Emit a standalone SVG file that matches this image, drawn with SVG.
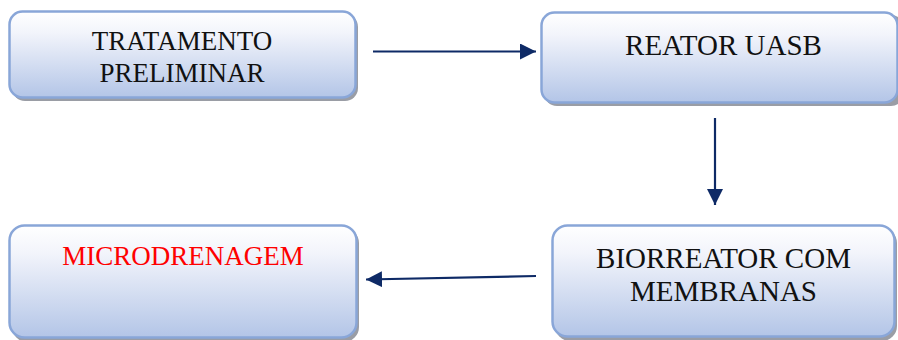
<svg xmlns="http://www.w3.org/2000/svg" width="898" height="340" viewBox="0 0 898 340">
  <defs>
    <linearGradient id="boxFill" x1="0" y1="0" x2="0" y2="1">
      <stop offset="0" stop-color="#ffffff"/>
      <stop offset="0.25" stop-color="#f2f4fb"/>
      <stop offset="1" stop-color="#b3c5e7"/>
    </linearGradient>
    <marker id="arrow" viewBox="0 0 16 16" refX="16" refY="8" markerWidth="16" markerHeight="16" markerUnits="userSpaceOnUse" orient="auto">
      <path d="M0,0 L16,8 L0,16 Z" fill="#0e2a66"/>
    </marker>
    <style>
      .shadow { fill: #9a9da5; }
      .box { fill: url(#boxFill); stroke: #89a6d8; stroke-width: 2.5; }
      .label { font-family: "Liberation Serif", "Times New Roman", serif; font-size: 27px; text-anchor: middle; fill: #111111; }
      .big { font-size: 29px; }
      .red { fill: #ff0000; }
      .conn { stroke: #0e2a66; stroke-width: 2.2; fill: none; marker-end: url(#arrow); }
    </style>
  </defs>

  <g id="tratamento-preliminar">
    <rect class="shadow" x="12" y="14" width="346" height="87" rx="13"/>
    <rect class="box" x="9.5" y="11.5" width="346" height="86" rx="13"/>
    <text class="label" x="182" y="50">TRATAMENTO</text>
    <text class="label" x="182" y="82">PRELIMINAR</text>
  </g>

  <g id="reator-uasb">
    <rect class="shadow" x="544" y="15" width="360" height="91" rx="13"/>
    <rect class="box" x="541.5" y="12.5" width="356" height="90" rx="13"/>
    <text class="label big" x="723.5" y="55">REATOR UASB</text>
  </g>

  <g id="microdrenagem">
    <rect class="shadow" x="12" y="228" width="347" height="114" rx="15"/>
    <rect class="box" x="9.5" y="225.5" width="347" height="112" rx="15"/>
    <text class="label red" x="183" y="265">MICRODRENAGEM</text>
  </g>

  <g id="biorreator-com-membranas">
    <rect class="shadow" x="555" y="228" width="342" height="113" rx="15"/>
    <rect class="box" x="552.5" y="225.5" width="342" height="111" rx="15"/>
    <text class="label big" x="723.5" y="268">BIORREATOR COM</text>
    <text class="label big" x="723.5" y="301">MEMBRANAS</text>
  </g>

  <g id="connectors">
    <line class="conn" x1="373" y1="51.5" x2="536" y2="51.5"/>
    <line class="conn" x1="715" y1="118" x2="715" y2="205"/>
    <line class="conn" x1="536" y1="276" x2="366" y2="279.5"/>
  </g>
</svg>
